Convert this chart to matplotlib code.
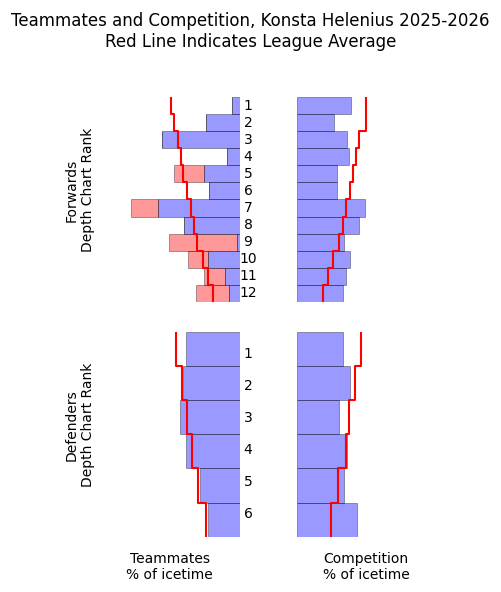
import numpy as np
import matplotlib
matplotlib.use("Agg")
import matplotlib.pyplot as plt

# forwards, ranks 1-12
f_ranks = np.arange(1, 13)
f_mates = [2.6, 11.3, 26.2, 4.3, 12.0, 10.3, 27.5, 18.8, 0.9, 10.7, 4.9, 3.6]
f_mates_extra = [0, 0, 0, 0, 10.1, 0, 9.1, 0, 22.9, 6.7, 7.1, 11.1]
f_comp = [18.2, 12.2, 16.9, 17.3, 13.5, 13.5, 22.7, 20.9, 15.8, 17.8, 16.3, 15.3]
f_avg_mates = [23.3, 22.1, 21.0, 20.0, 19.1, 17.8, 16.6, 15.6, 14.5, 12.6, 10.9, 9.2]
f_avg_comp = [23.2, 23.0, 20.8, 19.8, 18.7, 17.7, 16.5, 15.3, 14.0, 12.1, 10.5, 8.7]

# defenders, ranks 1-6
d_ranks = np.arange(1, 7)
d_mates = [18.1, 19.1, 20.1, 18.1, 13.5, 10.7]
d_mates_extra = [0, 0, 0, 0, 0, 0]
d_comp = [15.5, 17.8, 13.9, 16.8, 15.8, 20.2]
d_avg_mates = [21.6, 19.5, 17.8, 16.1, 14.0, 11.4]
d_avg_comp = [21.3, 19.4, 17.5, 16.3, 13.7, 11.3]

xmax = 46.8

fig = plt.figure(figsize=(5.01, 5.92), dpi=100)


def step_line(ax, ranks, avg):
    edges = np.append(ranks - 0.5, ranks[-1] + 0.5)
    ys = np.repeat(edges, 2)[1:-1]
    xs = np.repeat(avg, 2)
    ax.plot(xs, ys, color="red", lw=1.5, zorder=3)


def panel(rect, ranks, vals, extra, avg, flip):
    ax = fig.add_axes(rect)
    ax.barh(ranks, vals, height=1, color="blue", alpha=0.4, edgecolor="black",
            linewidth=0.6)
    if np.any(np.array(extra) > 0):
        ax.barh(ranks, extra, left=vals, height=1, color="red", alpha=0.4,
                edgecolor="black", linewidth=0.6)
    step_line(ax, ranks, avg)
    ax.set_ylim(ranks[-1] + 0.5, ranks[0] - 0.5)
    if flip:
        ax.set_xlim(xmax, 0)
    else:
        ax.set_xlim(0, xmax)
    ax.axis("off")
    return ax


def rank_labels(rect, ranks):
    ax = fig.add_axes(rect)
    ax.set_ylim(ranks[-1] + 0.5, ranks[0] - 0.5)
    ax.set_xlim(0, 1)
    for r in ranks:
        ax.text(0.5, r, str(r), ha="center", va="center", fontsize=10)
    ax.axis("off")


lx, rx, w = 0.2016, 0.5934, 0.2774
fb, db, h = 0.4899, 0.0934, 0.3463

panel([lx, fb, w, h], f_ranks, f_mates, f_mates_extra, f_avg_mates, True)
panel([rx, fb, w, h], f_ranks, f_comp, [0] * 12, f_avg_comp, False)
panel([lx, db, w, h], d_ranks, d_mates, d_mates_extra, d_avg_mates, True)
panel([rx, db, w, h], d_ranks, d_comp, [0] * 6, d_avg_comp, False)

rank_labels([0.479, fb, 0.032, h], f_ranks)
rank_labels([0.479, 0.1047, 0.032, 0.3243], d_ranks)

fig.text(0.16, 0.679, "Forwards\nDepth Chart Rank", rotation=90, ha="center",
         va="center", multialignment="center", fontsize=10)
fig.text(0.16, 0.282, "Defenders\nDepth Chart Rank", rotation=90, ha="center",
         va="center", multialignment="center", fontsize=10)
fig.text(0.339, 0.042, "Teammates\n% of icetime", ha="center", va="center",
         multialignment="center", fontsize=10)
fig.text(0.731, 0.042, "Competition\n% of icetime", ha="center", va="center",
         multialignment="center", fontsize=10)

fig.suptitle("Teammates and Competition, Konsta Helenius 2025-2026\n"
             "Red Line Indicates League Average", fontsize=12)

fig.savefig("out.png", dpi=100)
